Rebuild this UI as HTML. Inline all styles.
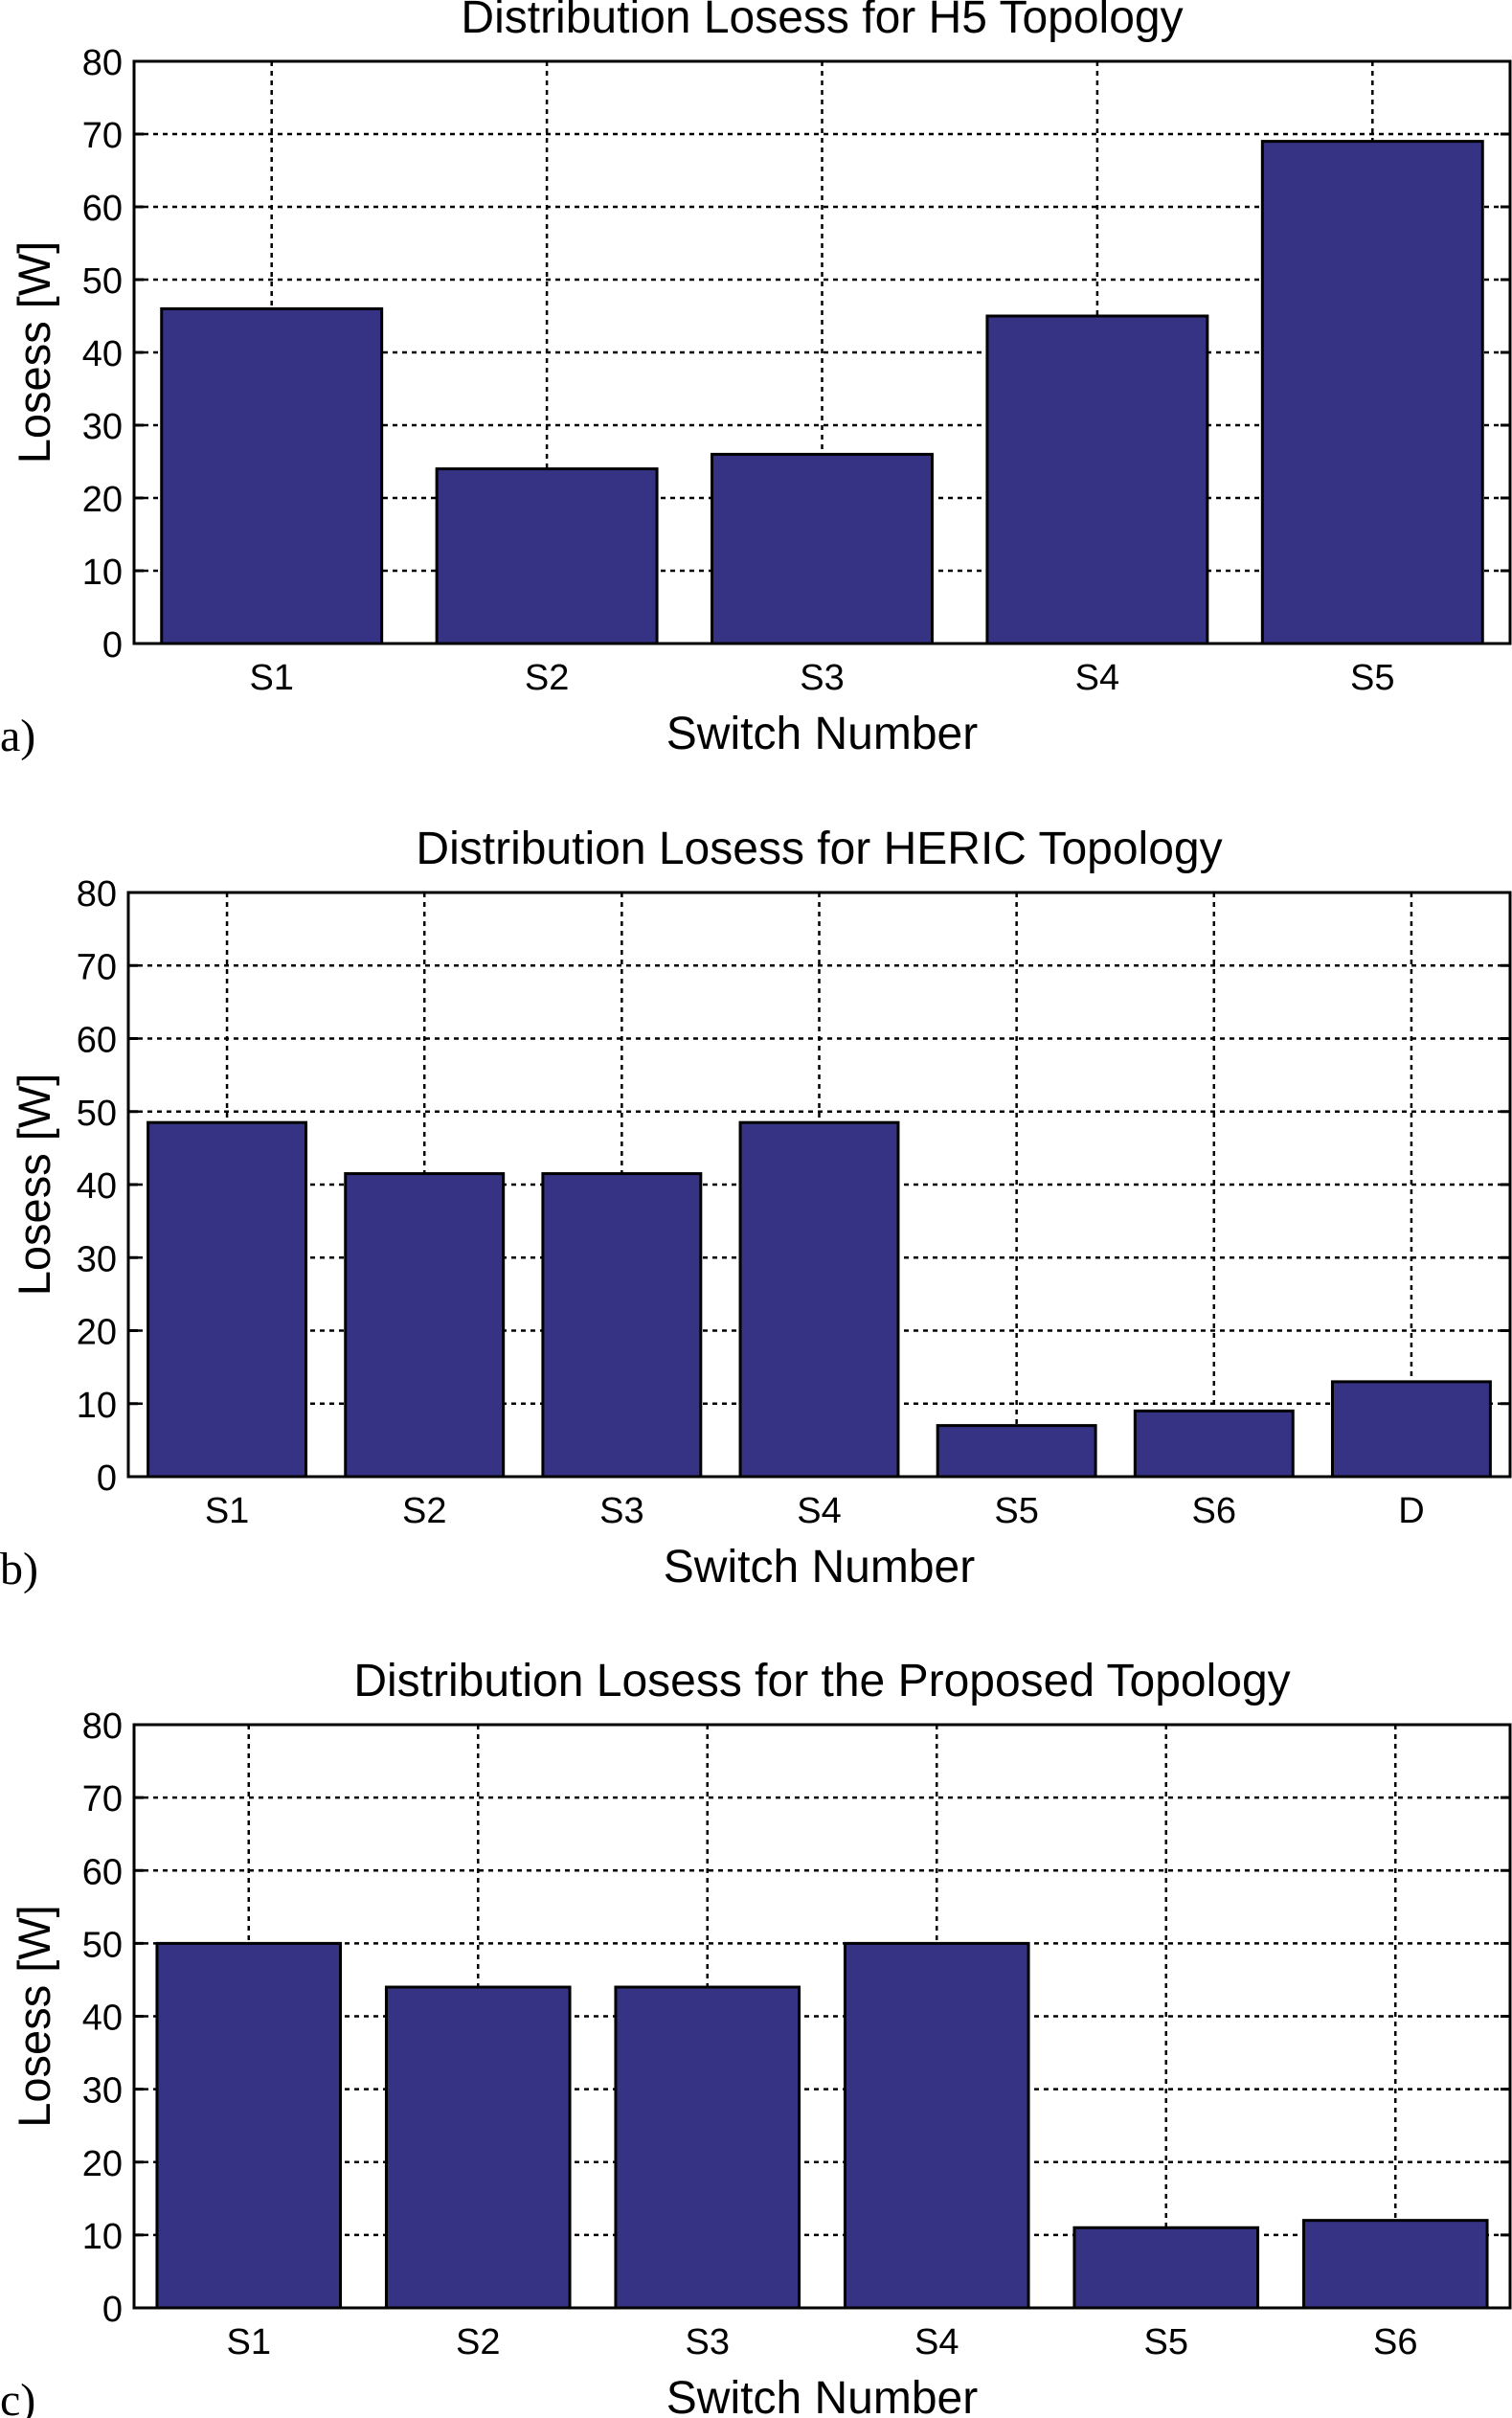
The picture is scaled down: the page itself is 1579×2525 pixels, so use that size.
<!DOCTYPE html>
<html><head><meta charset="utf-8"><style>
html,body{margin:0;padding:0;background:#fff}
svg{display:block;font-family:"Liberation Sans",Arial,sans-serif}
</style></head><body>
<svg id="fig" width="1579" height="2525" viewBox="0 0 1579 2525" xmlns="http://www.w3.org/2000/svg"></svg>
<script>
const yTicks = [0,10,20,30,40,50,60,70,80];
const catsA = ["S1","S2","S3","S4","S5"];
const valsA = [46,24,26,45,69];
const catsB = ["S1","S2","S3","S4","S5","S6","D"];
const valsB = [48.5,41.5,41.5,48.5,7,9,13];
const catsC = ["S1","S2","S3","S4","S5","S6"];
const valsC = [50,44,44,50,11,12];
const titles = ["Distribution Losess for H5 Topology","Distribution Losess for HERIC Topology","Distribution Losess for the Proposed Topology"];

const NS="http://www.w3.org/2000/svg";
const svg=document.getElementById('fig');
function mk(tag,attrs,parent,text){const e=document.createElementNS(NS,tag);for(const k in attrs)e.setAttribute(k,attrs[k]);if(text!==undefined)e.textContent=text;(parent||svg).appendChild(e);return e;}

function chart(id,cats,vals,title,box,letter){
  const g=mk('g',{});
  
  
  const {l,r,t,b}=box;
  const ymax=80;
  const y=v=>b-(v/ymax)*(b-t);
  const slot=(r-l)/cats.length;
  const x=i=>l+slot*(i+0.5);
  const bw=slot*0.8;
  yTicks.forEach(v=>{
    if(v>0&&v<ymax){const ln=mk('line',{x1:l,x2:r,y1:y(v),y2:y(v),stroke:'#000','stroke-width':2.5,'stroke-dasharray':'5 5'},g);
    }
  });
  cats.forEach((c,i)=>{
    const ln=mk('line',{x1:x(i),x2:x(i),y1:t,y2:b,stroke:'#000','stroke-width':2.5,'stroke-dasharray':'5 5'},g);
    
  });
  vals.forEach((v,i)=>{
    const rc=mk('rect',{x:x(i)-bw/2,y:y(v),width:bw,height:b-y(v),fill:'#363384',stroke:'#000','stroke-width':3},g);
    
    
  });
  const fr=mk('rect',{x:l,y:t,width:r-l,height:b-t,fill:'none',stroke:'#000','stroke-width':3},g);
  
  yTicks.forEach(v=>{
    mk('line',{x1:l,x2:l+10,y1:y(v),y2:y(v),stroke:'#000','stroke-width':3},g);
    mk('line',{x1:r,x2:r-10,y1:y(v),y2:y(v),stroke:'#000','stroke-width':3},g);
    const tx=mk('text',{x:l-12,y:y(v)+14,'font-size':38,'text-anchor':'end'},g,String(v));
    
  });
  cats.forEach((c,i)=>{
    const tx=mk('text',{x:x(i),y:b+48,'font-size':38,'text-anchor':'middle'},g,c);
    
  });
  const tt=mk('text',{x:(l+r)/2,y:t-30,'font-size':48,'text-anchor':'middle'},g,title);
  
  const xl=mk('text',{x:(l+r)/2,y:b+110,'font-size':48,'text-anchor':'middle'},g,'Switch Number');
  
  const cy=(t+b)/2;
  const yl=mk('text',{x:52,y:cy,'font-size':47,'text-anchor':'middle',transform:`rotate(-90 52 ${cy})`},g,'Losess [W]');
  
  const lt=mk('text',{x:0,y:b+112,'font-size':48,'font-family':'Liberation Serif, serif'},g,letter);
  
}
chart('a',catsA,valsA,titles[0],{l:140,r:1577,t:64,b:672},'a)');
chart('b',catsB,valsB,titles[1],{l:134,r:1577,t:932,b:1542},'b)');
chart('c',catsC,valsC,titles[2],{l:140,r:1577,t:1801,b:2410},'c)');
</script>
</body></html>
